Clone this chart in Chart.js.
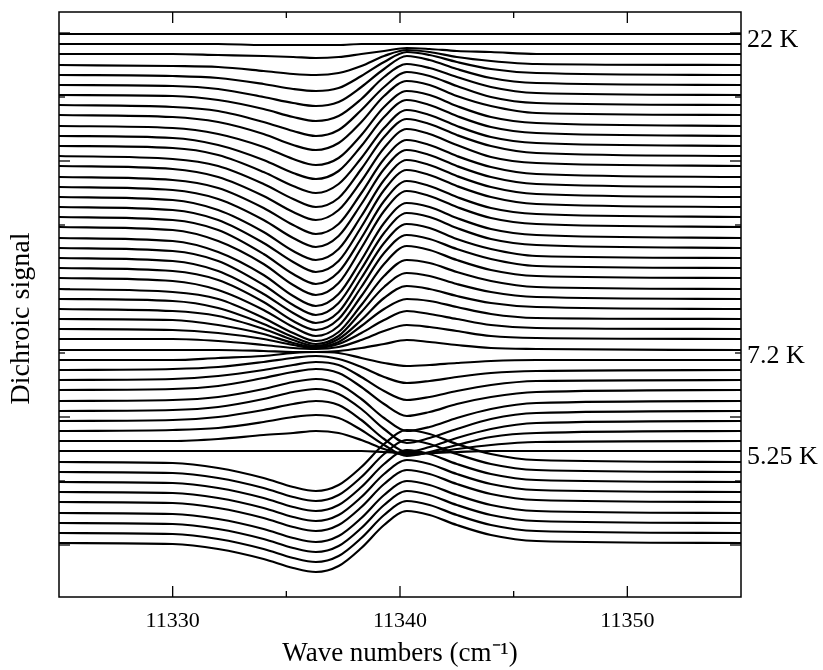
<!DOCTYPE html>
<html><head><meta charset="utf-8">
<script src="https://cdn.jsdelivr.net/npm/chart.js@4.4.0/dist/chart.umd.min.js"></script>
<style>html,body{margin:0;padding:0;background:#fff;}canvas{display:block;}</style>
</head><body>
<canvas id="c" width="823" height="670"></canvas>
<script>
const wavenumbers = [11325,11330,11332,11334,11335.3,11336.3,11337.3,11338.3,11339.3,11340.3,11341.3,11342.5,11344,11346,11355];

// Stacked dichroic-signal traces (arbitrary units incl. offset), top (22 K) to bottom
const trace00 = [563,563,563,563,563,563,563,563,563,563,563,563,563,563,563];
const trace01 = [553,553,553,552,552,552,552,553,553,553,553,553,553,553,553];
const trace02 = [543,543,542,541,540,539,540,543,546,549,548,546,545,543,543];
const trace03 = [532,531,530,526,523,522,524,531,541,547,545,540,536,533,532];
const trace04 = [522,521,519,513,508,506,509,521,535,545,542,535,528,524,522];
const trace05 = [512,511,508,500,494,491,495,510,528,541,537,528,519,514,512];
const trace06 = [502,501,497,488,480,476,481,498,520,533,529,520,510,504,502];
const trace07 = [492,490,486,475,466,461,467,487,510,525,521,511,500,494,492];
const trace08 = [482,480,475,463,452,447,454,475,501,516,512,501,491,484,482];
const trace09 = [471,469,463,450,438,432,439,462,490,506,502,491,480,474,471];
const trace10 = [461,459,452,437,424,418,426,451,480,497,492,481,470,464,461];
const trace11 = [451,449,442,425,411,404,413,439,469,487,482,471,460,454,451];
const trace12 = [441,438,431,413,398,390,399,428,460,478,473,462,451,444,441];
const trace13 = [431,428,420,401,385,377,387,416,449,468,463,452,440,434,431];
const trace14 = [420,417,409,389,372,363,373,404,438,457,452,441,430,423,420];
const trace15 = [410,407,398,377,359,350,361,393,428,447,442,431,420,413,410];
const trace16 = [400,397,387,365,346,337,348,381,417,437,432,421,410,403,400];
const trace17 = [390,387,377,354,335,325,336,370,407,427,422,411,400,393,390];
const trace18 = [380,377,367,343,323,313,325,359,396,416,411,400,389,383,380];
const trace19 = [370,367,356,333,312,302,314,349,386,406,401,390,379,373,370];
const trace20 = [359,356,345,322,301,291,303,337,374,394,390,379,368,362,359];
const trace21 = [349,346,336,312,292,282,294,328,364,384,380,369,358,352,349];
const trace22 = [339,336,326,303,284,274,285,319,354,373,369,358,348,341,339];
const trace23 = [329,326,317,295,276,267,278,310,344,362,358,348,338,331,329];
const trace24 = [319,316,307,287,270,261,271,301,333,351,347,337,327,321,319];
const trace25 = [308,305,298,279,264,256,265,292,321,337,334,325,316,310,308];
const trace26 = [298,296,289,273,260,253,261,285,310,324,321,313,305,300,298];
const trace27 = [288,286,281,268,257,251,258,277,299,311,308,301,294,290,288];
const trace28 = [278,277,272,263,254,250,255,271,288,298,296,290,283,279,278];
const trace29 = [268,267,264,258,252,249,253,264,277,286,283,278,272,269,268];
const trace30 = [258,258,256,252,249,248,250,257,266,272,270,266,261,259,258];
const trace31 = [247,247,247,246,245,245,246,249,253,257,255,252,249,248,247];
const trace32 = [237,237,239,241,244,245,244,239,234,231,232,234,236,237,237];
const trace33 = [227,228,230,235,239,241,238,230,220,214,216,220,224,226,227];
const trace34 = [217,218,221,227,232,235,232,220,206,197,200,206,212,216,217];
const trace35 = [207,208,211,219,225,228,224,210,193,181,185,193,200,205,207];
const trace36 = [196,197,200,208,215,218,213,198,179,166,170,179,188,194,196];
const trace37 = [186,187,190,198,205,208,203,188,168,154,159,168,178,184,186];
const trace38 = [176,177,180,187,193,196,192,177,158,145,150,159,168,174,176];
const trace39 = [166,167,169,175,180,182,179,167,152,141,145,152,160,164,166];
const trace40 = [156,156,158,162,164,166,164,157,148,142,144,148,152,155,156];
const trace41 = [146,146,146,146,146,146,146,146,145,144,144,145,146,146,146];
const trace42 = [135,134,129,119,110,106,112,130,153,167,163,153,143,137,135];
const trace43 = [125,124,119,109,100,96,102,120,143,157,153,143,133,127,125];
const trace44 = [115,114,109,99,90,86,92,110,133,147,143,133,123,117,115];
const trace45 = [105,104,99,89,80,76,82,100,123,137,133,123,113,107,105];
const trace46 = [95,94,89,79,70,66,72,90,113,127,123,113,103,97,95];
const trace47 = [84,83,78,68,59,55,61,79,102,116,112,102,92,86,84];
const trace48 = [74,73,68,58,49,45,51,69,92,106,102,92,82,76,74];
const trace49 = [64,63,58,48,39,35,41,59,82,96,92,82,72,66,64];
const trace50 = [54,53,48,38,29,25,31,49,72,86,82,72,62,56,54];

const traces = [trace00,trace01,trace02,trace03,trace04,trace05,trace06,trace07,trace08,trace09,
  trace10,trace11,trace12,trace13,trace14,trace15,trace16,trace17,trace18,trace19,
  trace20,trace21,trace22,trace23,trace24,trace25,trace26,trace27,trace28,trace29,
  trace30,trace31,trace32,trace33,trace34,trace35,trace36,trace37,trace38,trace39,
  trace40,trace41,trace42,trace43,trace44,trace45,trace46,trace47,trace48,trace49,trace50];

// Temperature labels on the right and the trace each belongs to
const tempLabels = ["22 K", "7.2 K", "5.25 K"];
const tempLabelTraces = [0, 31, 41];

// Axis ticks and titles
const xTickLabels = [11330, 11340, 11350];
const xMinorTicks = [11335, 11345];
const yMajorTicks = [52, 180, 308, 436, 564];
const yMinorTicks = [116, 244, 372, 500];
const yRange = [0, 585];
const xRange = [11325, 11355];
const xTitle = 'Wave numbers (cm\u207B\u00B9)';
const yTitle = 'Dichroic signal';

const FONT = "'Liberation Serif','Times New Roman',serif";

const framePlugin = {
  id: 'frame',
  afterDatasetsDraw(chart) {
    const {ctx, chartArea: a, scales: {x, y}} = chart;
    ctx.save();
    ctx.strokeStyle = '#000';
    ctx.lineWidth = 1.5;
    ctx.strokeRect(a.left, a.top, a.right - a.left, a.bottom - a.top);
    ctx.lineWidth = 1.3;
    const seg = (x1, y1, x2, y2) => { ctx.beginPath(); ctx.moveTo(x1, y1); ctx.lineTo(x2, y2); ctx.stroke(); };
    xTickLabels.forEach(v => { const p = x.getPixelForValue(v); seg(p, a.bottom, p, a.bottom - 11); seg(p, a.top, p, a.top + 11); });
    xMinorTicks.forEach(v => { const p = x.getPixelForValue(v); seg(p, a.bottom, p, a.bottom - 6); seg(p, a.top, p, a.top + 6); });
    yMajorTicks.forEach(v => { const p = y.getPixelForValue(v); seg(a.left, p, a.left + 11, p); seg(a.right, p, a.right - 11, p); });
    yMinorTicks.forEach(v => { const p = y.getPixelForValue(v); seg(a.left, p, a.left + 6, p); seg(a.right, p, a.right - 6, p); });
    ctx.fillStyle = '#000';
    ctx.font = '26px ' + FONT;
    ctx.textAlign = 'left';
    ctx.textBaseline = 'alphabetic';
    tempLabels.forEach((t, i) => {
      const tr = traces[tempLabelTraces[i]];
      const p = y.getPixelForValue(tr[tr.length - 1]);
      ctx.fillText(t, a.right + 6, p + 13);
    });
    // vertical axis title, slightly below the plot centre as in the original
    ctx.translate(22, (a.top + a.bottom) / 2 + 14);
    ctx.rotate(-Math.PI / 2);
    ctx.font = '28px ' + FONT;
    ctx.textAlign = 'center';
    ctx.textBaseline = 'middle';
    ctx.fillText(yTitle, 0, 0);
    ctx.restore();
  }
};

const datasets = traces.map((tr, i) => ({
  label: 'trace ' + i,
  data: tr.map((v, j) => ({x: wavenumbers[j], y: v})),
  borderColor: '#000',
  borderWidth: 2.2,
  pointRadius: 0,
  fill: false,
  cubicInterpolationMode: 'monotone'
}));

new Chart(document.getElementById('c'), {
  type: 'line',
  data: {datasets},
  options: {
    responsive: false,
    animation: false,
    devicePixelRatio: 1,
    layout: {padding: {left: 0, right: 82, top: 12, bottom: 0}},
    plugins: {legend: {display: false}, tooltip: {enabled: false}},
    scales: {
      x: {
        type: 'linear',
        min: xRange[0], max: xRange[1],
        afterBuildTicks: s => { s.ticks = xTickLabels.map(v => ({value: v})); },
        afterFit: s => { s.height = 73; },
        grid: {display: false, drawTicks: false},
        border: {display: false},
        ticks: {color: '#000', padding: 11, font: {family: FONT, size: 22}, callback: v => String(v), maxRotation: 0},
        title: {display: true, text: xTitle, color: '#000', font: {family: FONT, size: 27}, padding: {top: 0, bottom: 0}}
      },
      y: {
        type: 'linear',
        min: yRange[0], max: yRange[1],
        afterFit: s => { s.width = 59; },
        grid: {display: false, drawTicks: false},
        border: {display: false},
        ticks: {display: false}
      }
    }
  },
  plugins: [framePlugin]
});
</script>
</body></html>
